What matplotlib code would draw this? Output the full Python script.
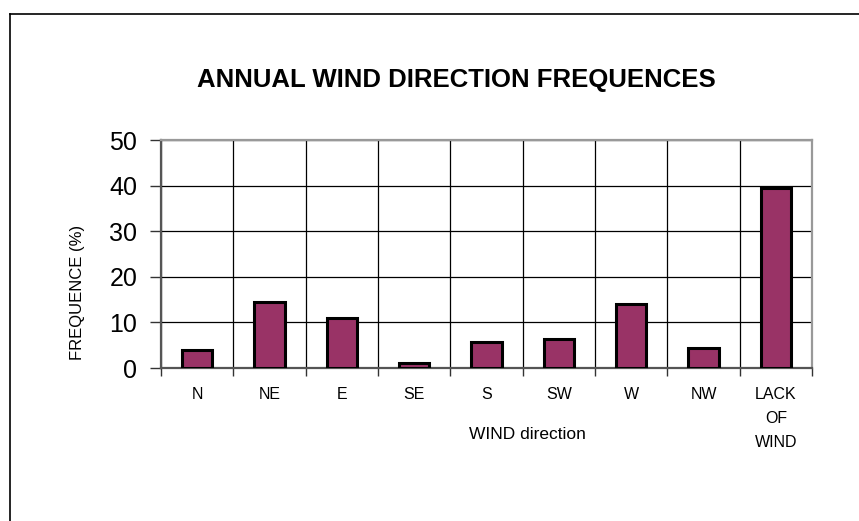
import numpy as np
import matplotlib
matplotlib.use('Agg')
import matplotlib.pyplot as plt
from matplotlib.lines import Line2D

plt.rcParams['font.family'] = ['Liberation Sans', 'DejaVu Sans']

# Data
directions = ['N', 'NE', 'E', 'SE', 'S', 'SW', 'W', 'NW', 'LACK\nOF\nWIND']
frequency = [3.9, 14.5, 10.9, 1.0, 5.7, 6.3, 14.0, 4.4, 39.4]
y_ticks = [0, 10, 20, 30, 40, 50]

W, H = 859, 521
fig = plt.figure(figsize=(W / 100, H / 100), dpi=100)

# axes box in pixels: left 161, right 812, top 140, bottom 368
ax = fig.add_axes([161 / W, (H - 368) / H, (812 - 161) / W, (368 - 140) / H])

x = np.arange(len(directions))
ax.bar(x, frequency, width=0.42, color='#993366', edgecolor='black', linewidth=2.2, zorder=3)

ax.set_xlim(-0.5, len(directions) - 0.5)
ax.set_ylim(0, 50)

# category boundaries as major ticks (gridlines), labels on minor ticks
ax.set_xticks(np.arange(-0.5, len(directions), 1.0))
ax.set_xticklabels([])
ax.set_xticks(x, minor=True)
ax.set_xticklabels(directions, minor=True, fontsize=11.5, linespacing=1.72, va='top')
ax.tick_params(axis='x', which='minor', length=0, pad=14)
ax.tick_params(axis='x', which='major', length=6, width=1, color='#333333', direction='out')

ax.set_yticks(y_ticks)
ax.set_yticklabels([str(v) for v in y_ticks], fontsize=18)
ax.tick_params(axis='y', length=8, width=1, color='#333333', direction='out', pad=9)

ax.grid(True, which='major', axis='both', color='black', linewidth=0.9, zorder=0)
ax.set_axisbelow(True)

for side in ['left', 'bottom']:
    ax.spines[side].set_color('#555555')
    ax.spines[side].set_linewidth(1.6)
for side in ['top', 'right']:
    ax.spines[side].set_color('#999999')
    ax.spines[side].set_linewidth(1.6)

ax.set_ylabel('FREQUENCE (%)', fontsize=12)
ax.yaxis.set_label_coords(-0.117, 0.33)
ax.set_xlabel('WIND direction', fontsize=12.5)
ax.xaxis.set_label_coords(0.563, -0.26)

fig.text(456 / W, 1 - 80 / H, 'ANNUAL WIND DIRECTION FREQUENCES', ha='center', va='center',
         fontsize=18.5, fontweight='bold')

# outer chart-area border (left and top edges visible)
fig.add_artist(Line2D([10 / W, 10 / W], [0, 1 - 14 / H], transform=fig.transFigure,
                      color='black', linewidth=1.2))
fig.add_artist(Line2D([10 / W, 1], [1 - 14 / H, 1 - 14 / H], transform=fig.transFigure,
                      color='black', linewidth=1.2))

fig.savefig('out.png', dpi=100)
